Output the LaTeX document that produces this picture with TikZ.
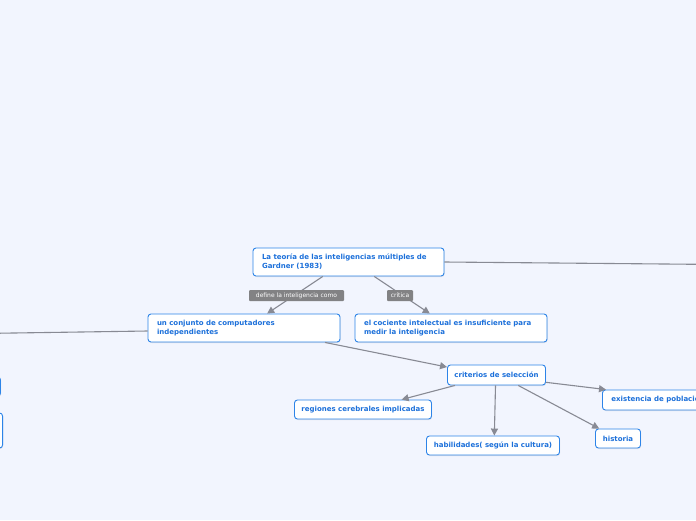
\documentclass[tikz,border=0pt]{standalone}
\usepackage{fontspec}
\setmainfont{DejaVu Sans}
\usetikzlibrary{arrows.meta,calc,shadows}
\definecolor{bg}{RGB}{242,245,254}
\definecolor{nodeborder}{RGB}{45,132,232}
\definecolor{nodetext}{RGB}{28,112,218}
\definecolor{conn}{RGB}{136,138,148}
\definecolor{labfill}{RGB}{130,130,132}
\tikzset{
  topic/.style={rectangle, rounded corners=3pt, draw=nodeborder, line width=0.9pt, fill=white,
    text=nodetext, font=\fontsize{7}{9}\selectfont\bfseries, inner ysep=2pt, inner xsep=9pt,
    drop shadow={opacity=0.18, shadow xshift=0.6pt, shadow yshift=-1pt}},
  multi/.style={topic, align=left, text width=#1},
  single/.style={topic, align=center, inner xsep=4pt, minimum width=#1, minimum height=20pt},
  edgelab/.style={rectangle, fill=labfill, text=white, font=\fontsize{6}{7}\selectfont,
    inner sep=0pt, minimum height=11pt, rounded corners=1pt},
  link/.style={draw=conn, line width=1.1pt},
  arrowlink/.style={link, -{Triangle[length=7pt,width=7pt]}},
}
\begin{document}
\begin{tikzpicture}[x=1pt,y=-1pt]
\useasboundingbox (0,0) rectangle (696,520);
\fill[bg] (0,0) rectangle (696,520);
\clip (0,0) rectangle (696,520);

% nodes
\node[multi=173pt, minimum height=28pt] (root) at (348.5,262) {La teoría de las inteligencias múltiples de\\Gardner (1983)};
\node[multi=174pt, minimum height=28pt] (A) at (244,328) {un conjunto de computadores\\independientes};
\node[multi=174pt, minimum height=28pt] (B) at (451,328) {el cociente intelectual es insuficiente para\\medir la inteligencia};
\node[single=98pt] (C) at (496.5,375) {criterios de selección};
\node[single=137pt, minimum height=19pt] (D) at (363,409.5) {regiones cerebrales implicadas};
\node[single=133pt, minimum height=19pt] (E) at (493,445.5) {habilidades( según la cultura)};
\node[single=45pt, minimum height=19pt] (F) at (618,438.5) {historia};
\node[topic, anchor=west, minimum height=20pt, align=left] (G) at (602,400) {existencia de poblaciones excepcionales};

% partly visible nodes at the left edge
\node[topic, anchor=east, minimum width=120pt, minimum height=19pt] (L1) at (1,386.5) {};
\node[topic, anchor=east, minimum width=120pt, minimum height=35pt] (L2) at (3,430.5) {};

% coordinates beyond the edges
\coordinate (offright) at (720,264.5);
\coordinate (offleft) at (-20,333.5);

% connectors
\draw[link] (root.east) -- (offright);
\draw[link] ($(A.west)+(0,3)$) -- (offleft);
\draw[arrowlink] ($(root.south west)!0.366!(root.south east)$) -- ($(A.north west)!0.62!(A.north east)$);
\draw[arrowlink] ($(root.south west)!0.634!(root.south east)$) -- ($(B.north west)!0.39!(B.north east)$);
\draw[arrowlink] ($(A.south west)!0.92!(A.south east)$) -- ($(C.north west)!0.12!(C.south west)$);
\draw[arrowlink] ($(C.south west)!0.08!(C.south east)$) -- ($(D.north west)!0.78!(D.north east)$);
\draw[arrowlink] ($(C.south west)!0.49!(C.south east)$) -- ($(E.north west)!0.51!(E.north east)$);
\draw[arrowlink] ($(C.south west)!0.72!(C.south east)$) -- ($(F.north west)!0.09!(F.north east)$);
\draw[arrowlink] ($(C.north east)!0.85!(C.south east)$) -- ($(G.north west)+(4,0)$);

% edge labels
\node[edgelab, minimum width=95pt] (lab1) at (296.5,295.5) {define la inteligencia como};
\node[edgelab, minimum width=26pt] (lab2) at (400,295.5) {crítica};
\end{tikzpicture}
\end{document}
